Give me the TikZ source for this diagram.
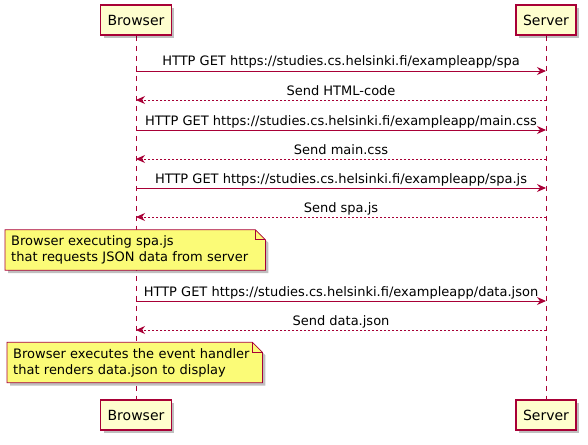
\documentclass[tikz,border=0pt]{standalone}
\usepackage{fontspec}
\setmainfont{DejaVu Sans}
\usepackage{tikz}
\usetikzlibrary{arrows.meta}
\usetikzlibrary{positioning}
\usetikzlibrary{shadows}
\usetikzlibrary{backgrounds}
\definecolor{umlred}{HTML}{A80036}
\definecolor{umlbox}{HTML}{FEFECE}
\definecolor{umlnote}{HTML}{FBFB77}
\tikzset{
  part/.style = {draw=umlred, fill=umlbox, line width=1.2pt, minimum height=30pt,
    inner xsep=7pt, font=\fontsize{14}{16}\selectfont,
    drop shadow={shadow xshift=3pt, shadow yshift=-3pt, fill=black, opacity=0.25}},% participant
  life/.style = {umlred, line width=0.8pt, dash pattern=on 5pt off 5pt},% lifeline
  msg/.style = {umlred, line width=0.9pt, -{Stealth[length=9pt, width=8pt, inset=3pt]}},% call
  ret/.style = {msg, dash pattern=on 2pt off 2pt},% answer
  msgtxt/.style = {black, anchor=base, yshift=5pt, inner sep=0pt,
    font=\fontsize{13}{15}\selectfont},
  notetxt/.style = {anchor=west, align=left, inner xsep=6pt, inner ysep=0pt,
    minimum height=40pt, font=\fontsize{13}{16}\selectfont},
  notebox/.style = {draw=umlred, fill=umlnote, line width=0.8pt,
    drop shadow={shadow xshift=3pt, shadow yshift=-3pt, fill=black, opacity=0.25}}
}

\begin{document}
\begin{tikzpicture}[x=1pt, y=-1pt]
\useasboundingbox (0,0) rectangle (588,444);
% participants
\node [part] (btop) at (136,20) {Browser};
\node [part] (stop) at (546,20) {Server};
\node [part] (bbot) at (136,415) {Browser};
\node [part] (sbot) at (546,415) {Server};
% points on the lifelines
\foreach \n/\y in {1/71,2/100,3/130,4/159,5/188,6/217,7/301,8/330} {
  \coordinate (b\n) at (136,\y);
  \coordinate (s\n) at (546,\y);
}
\draw [msg] (b1) -- node [msgtxt] {HTTP GET https://studies.cs.helsinki.fi/exampleapp/spa} (s1);
\draw [ret] (s2) -- node [msgtxt] {Send HTML-code} (b2);
\draw [msg] (b3) -- node [msgtxt] {HTTP GET https://studies.cs.helsinki.fi/exampleapp/main.css} (s3);
\draw [ret] (s4) -- node [msgtxt] {Send main.css} (b4);
\draw [msg] (b5) -- node [msgtxt] {HTTP GET https://studies.cs.helsinki.fi/exampleapp/spa.js} (s5);
\draw [ret] (s6) -- node [msgtxt] {Send spa.js} (b6);
\draw [msg] (b7) -- node [msgtxt] {HTTP GET https://studies.cs.helsinki.fi/exampleapp/data.json} (s7);
\draw [ret] (s8) -- node [msgtxt] {Send data.json} (b8);
% notes
\node [notetxt, text width=248pt] (n1) at (5,250) {Browser executing spa.js\\that requests JSON data from server};
\node [notetxt, text width=243pt] (n2) at (7,362.5) {Browser executes the event handler\\that renders data.json to display};
\begin{scope}[on background layer]
\draw [life] (btop.south) -- (bbot.north);
\draw [life] (stop.south) -- (sbot.north);
\foreach \m in {n1,n2} {
  \draw [notebox] (\m.north west) -- ([xshift=-10pt]\m.north east)
    -- ([yshift=-10pt]\m.north east) -- (\m.south east) -- (\m.south west) -- cycle;
  \draw [umlred, line width=0.8pt] ([xshift=-10pt]\m.north east)
    -- ([xshift=-10pt, yshift=-10pt]\m.north east) -- ([yshift=-10pt]\m.north east);
}
\end{scope}
\end{tikzpicture}
\end{document}
